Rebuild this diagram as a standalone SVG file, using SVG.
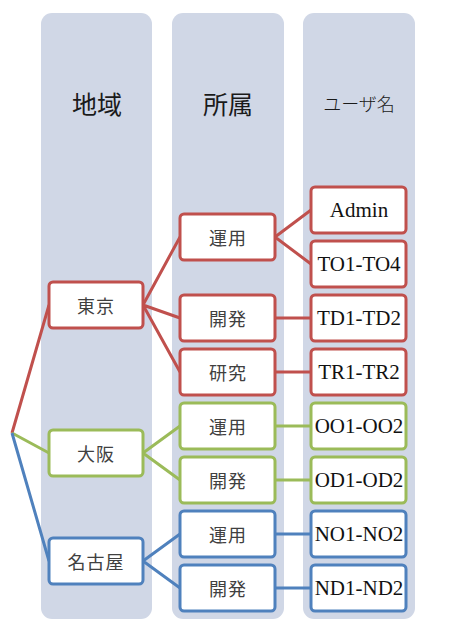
<svg xmlns="http://www.w3.org/2000/svg" width="452" height="634" viewBox="0 0 452 634">
<style>
.col{fill:#D0D7E6}
.hdr{font-family:"Noto Sans CJK JP",sans-serif;fill:#1a1a1a;text-anchor:middle;dominant-baseline:central}
.n rect{fill:#fff;stroke-width:3}
.r rect{stroke:#C0504D}.g rect{stroke:#9BBB59}.b rect{stroke:#4F81BD}
.jp{font-family:"Noto Sans CJK JP",sans-serif;font-size:18px;fill:#404040;text-anchor:middle;dominant-baseline:central;letter-spacing:1px}
.en{font-family:"Liberation Serif",serif;font-size:21px;fill:#111;text-anchor:middle;dominant-baseline:central}
.c{fill:none;stroke-width:3}
.cr{stroke:#C0504D}.cg{stroke:#9BBB59}.cb{stroke:#4F81BD}
</style>
<rect width="452" height="634" fill="#fff"/>
<g id="columns">
<rect class="col" x="41" y="13" width="111" height="606" rx="11"/>
<rect class="col" x="172" y="13" width="112" height="606" rx="11"/>
<rect class="col" x="303" y="13" width="112" height="606" rx="11"/>
<text class="hdr" x="97" y="103" font-size="25">地域</text>
<text class="hdr" x="228" y="103" font-size="25">所属</text>
<text class="hdr" x="359" y="103" font-size="18" fill="#333" font-weight="300">ユーザ名</text>
</g>
<g id="connectors">
<path class="c cr" d="M12,433 L49,305 M143,305 L180,237 M143,305 L180,318 M143,305 L180,372 M275,237 L311,210 M275,237 L311,264 M275,318 L311,318 M275,372 L311,372"/>
<path class="c cg" d="M12,433 L49,453 M143,453 L180,426 M143,453 L180,480 M275,426 L311,426 M275,480 L311,480"/>
<path class="c cb" d="M12,433 L49,561 M143,561 L180,534 M143,561 L180,588 M275,534 L311,534 M275,588 L311,588"/>
</g>
<g id="tokyo" class="n r"><rect x="49" y="282" width="94" height="46" rx="4"/><text class="jp" x="96" y="305">東京</text></g>
<g id="osaka" class="n g"><rect x="49" y="430" width="94" height="46" rx="4"/><text class="jp" x="96" y="453">大阪</text></g>
<g id="nagoya" class="n b"><rect x="49" y="538" width="94" height="46" rx="4"/><text class="jp" x="96" y="561">名古屋</text></g>
<g id="tokyo-unyo" class="n r"><rect x="180" y="214" width="95" height="46" rx="4"/><text class="jp" x="228" y="237">運用</text></g>
<g id="tokyo-kaihatsu" class="n r"><rect x="180" y="295" width="95" height="46" rx="4"/><text class="jp" x="228" y="318">開発</text></g>
<g id="tokyo-kenkyu" class="n r"><rect x="180" y="349" width="95" height="46" rx="4"/><text class="jp" x="228" y="372">研究</text></g>
<g id="osaka-unyo" class="n g"><rect x="180" y="403" width="95" height="46" rx="4"/><text class="jp" x="228" y="426">運用</text></g>
<g id="osaka-kaihatsu" class="n g"><rect x="180" y="457" width="95" height="46" rx="4"/><text class="jp" x="228" y="480">開発</text></g>
<g id="nagoya-unyo" class="n b"><rect x="180" y="511" width="95" height="46" rx="4"/><text class="jp" x="228" y="534">運用</text></g>
<g id="nagoya-kaihatsu" class="n b"><rect x="180" y="565" width="95" height="46" rx="4"/><text class="jp" x="228" y="588">開発</text></g>
<g id="admin" class="n r"><rect x="311" y="187" width="95" height="46" rx="4"/><text class="en" x="359" y="210">Admin</text></g>
<g id="to" class="n r"><rect x="311" y="241" width="95" height="46" rx="4"/><text class="en" x="359" y="264">TO1-TO4</text></g>
<g id="td" class="n r"><rect x="311" y="295" width="95" height="46" rx="4"/><text class="en" x="359" y="318">TD1-TD2</text></g>
<g id="tr" class="n r"><rect x="311" y="349" width="95" height="46" rx="4"/><text class="en" x="359" y="372">TR1-TR2</text></g>
<g id="oo" class="n g"><rect x="311" y="403" width="95" height="46" rx="4"/><text class="en" x="359" y="426">OO1-OO2</text></g>
<g id="od" class="n g"><rect x="311" y="457" width="95" height="46" rx="4"/><text class="en" x="359" y="480">OD1-OD2</text></g>
<g id="no" class="n b"><rect x="311" y="511" width="95" height="46" rx="4"/><text class="en" x="359" y="534">NO1-NO2</text></g>
<g id="nd" class="n b"><rect x="311" y="565" width="95" height="46" rx="4"/><text class="en" x="359" y="588">ND1-ND2</text></g>
</svg>
